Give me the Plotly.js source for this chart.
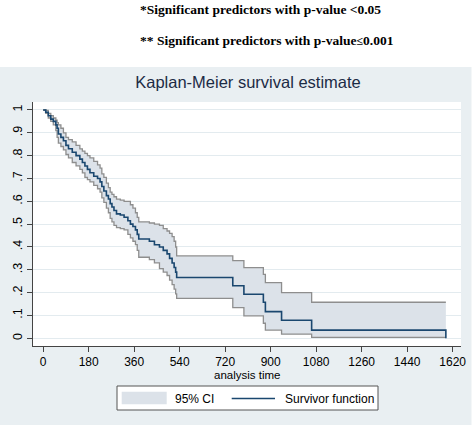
<!DOCTYPE html>
<html>
<head>
<meta charset="utf-8">
<script src="https://cdn.plot.ly/plotly-3.0.1.min.js"></script>
<style>html,body{margin:0;padding:0;background:#fff;}#chart{width:474px;height:427px;}</style>
</head>
<body>
<div id="chart"></div>
<script>
// Analysis time (days) at which the step function changes
var times = [0,10,20,30,40,50,55,60,70,80,90,100,115,130,145,155,165,175,185,200,
  215,225,232,240,250,258,265,272,280,290,305,320,335,345,355,365,372,378,420,440,
  460,475,490,500,510,518,524,528,750,794,871,879,943,1062,1593];
// Kaplan-Meier survivor function
var survival = [1.0,0.99,0.975,0.96,0.95,0.935,0.92,0.895,0.88,0.865,
  0.845,0.83,0.815,0.80,0.785,0.77,0.755,0.74,0.725,0.71,
  0.70,0.685,0.665,0.645,0.625,0.61,0.59,0.575,0.56,0.545,
  0.54,0.53,0.515,0.50,0.49,0.475,0.455,0.435,0.425,0.41,
  0.40,0.385,0.37,0.35,0.33,0.31,0.29,0.266,0.23,0.193,
  0.158,0.117,0.079,0.036,0];
// 95% CI upper bound
var ciUpper = [1.0,0.998,0.985,0.975,0.965,0.955,0.945,0.935,0.92,0.90,
  0.88,0.87,0.86,0.845,0.83,0.82,0.81,0.80,0.79,0.775,
  0.76,0.745,0.72,0.705,0.68,0.66,0.64,0.63,0.62,0.61,
  0.605,0.60,0.60,0.585,0.57,0.55,0.53,0.51,0.505,0.50,
  0.495,0.48,0.47,0.46,0.445,0.425,0.40,0.361,0.34,0.31,
  0.28,0.244,0.20,0.158,0.158];
// 95% CI lower bound
var ciLower = [1.0,0.985,0.965,0.95,0.935,0.91,0.88,0.855,0.84,0.825,
  0.805,0.79,0.77,0.755,0.74,0.725,0.705,0.695,0.685,0.67,
  0.655,0.64,0.615,0.595,0.57,0.55,0.525,0.51,0.495,0.485,
  0.48,0.475,0.455,0.44,0.425,0.41,0.385,0.355,0.345,0.33,
  0.305,0.29,0.275,0.255,0.235,0.215,0.195,0.175,0.134,0.098,
  0.066,0.036,0.018,0.004,0.004];

var xTickVals = [0,180,360,540,720,900,1080,1260,1440,1620];
var yTickVals = [0,0.1,0.2,0.3,0.4,0.5,0.6,0.7,0.8,0.9,1];
var yTickText = ["0",".1",".2",".3",".4",".5",".6",".7",".8",".9","1"];

var chartTitle = "Kaplan-Meier survival estimate";
var xTitle = "analysis time";
var note1 = "*Significant predictors with p-value <0.05";
var note2a = "** Significant predictors with p-value";
var note2b = "\u2264";
var note2c = "0.001";
var legendCI = "95% CI";
var legendSurv = "Survivor function";

var NAVY = "#1a476f", CIGRAY = "#8e8e8e", BAND = "#dce2e9", BG = "#e9eff2";
var FONT = "Liberation Sans, Arial, sans-serif";
var SERIF = "Liberation Serif, Times New Roman, serif";

var traces = [
  {x: times, y: ciLower, mode: "lines", line: {shape: "hv", color: CIGRAY, width: 1.3},
   hoverinfo: "skip", showlegend: false},
  {x: times, y: ciUpper, mode: "lines", fill: "tonexty", fillcolor: BAND,
   line: {shape: "hv", color: CIGRAY, width: 1.3}, hoverinfo: "skip", showlegend: false},
  {x: times, y: survival, mode: "lines", line: {shape: "hv", color: NAVY, width: 1.6},
   showlegend: false}
];

// plot area: x 33..461 px, y 102..346 px
function px(x){ return (x - 33) / 428; }
function py(y){ return (346 - y) / 244; }

var note2 = note2a + '<span style="font-family:Liberation Serif;font-size:12px">' + note2b + '</span>' + note2c;

var layout = {
  width: 474, height: 427,
  margin: {l: 33, r: 13, t: 102, b: 81, pad: 0},
  paper_bgcolor: "#ffffff",
  plot_bgcolor: "rgba(0,0,0,0)",
  font: {family: FONT, size: 12, color: "#000"},
  showlegend: false,
  title: {text: chartTitle, x: 248/474, xref: "container", xanchor: "center",
          y: 1 - 82/427, yref: "container", yanchor: "middle",
          font: {family: FONT, size: 16.5, color: "#1c2b45"}},
  xaxis: {
    range: [-40.35, 1652.9], tickvals: xTickVals, ticktext: xTickVals.map(String),
    showline: true, linecolor: "#444", linewidth: 1, ticks: "outside", ticklen: 5,
    tickcolor: "#444", tickwidth: 1, showgrid: false, zeroline: false,
    tickfont: {family: FONT, size: 12, color: "#000"}
  },
  yaxis: {
    range: [-0.0337, 1.035], tickvals: yTickVals, ticktext: yTickText, tickangle: -90,
    showline: true, linecolor: "#444", linewidth: 1, ticks: "outside", ticklen: 5,
    tickcolor: "#444", tickwidth: 1, showgrid: true, gridcolor: "#e3ebef", gridwidth: 1,
    zeroline: false,
    tickfont: {family: FONT, size: 12.5, color: "#000"}
  },
  shapes: [
    {type: "rect", xref: "paper", yref: "paper", layer: "below",
     x0: px(0), x1: px(471.5), y0: py(425), y1: py(67), fillcolor: BG, line: {width: 0}},
    {type: "rect", xref: "paper", yref: "paper", layer: "below",
     x0: 0, x1: 1, y0: 0, y1: 1, fillcolor: "#ffffff", line: {width: 0}},
    {type: "rect", xref: "paper", yref: "paper", layer: "below",
     x0: px(117), x1: px(378), y0: py(410), y1: py(386), fillcolor: "#ffffff",
     line: {color: "#555", width: 1}},
    {type: "rect", xref: "paper", yref: "paper", layer: "below",
     x0: px(121.7), x1: px(166.7), y0: py(404.3), y1: py(391.7), fillcolor: BAND,
     line: {width: 0}},
    {type: "line", xref: "paper", yref: "paper", layer: "above",
     x0: px(231.7), x1: px(275), y0: py(398.5), y1: py(398.5),
     line: {color: NAVY, width: 1.6}}
  ],
  annotations: [
    {text: note1, xref: "paper", yref: "paper", x: px(138), y: py(9),
     xanchor: "left", yanchor: "middle", showarrow: false,
     font: {family: SERIF, size: 13.5, color: "#000", weight: "bold"}},
    {text: note2, xref: "paper", yref: "paper", x: px(138), y: py(40),
     xanchor: "left", yanchor: "middle", showarrow: false,
     font: {family: SERIF, size: 13.5, color: "#000", weight: "bold"}},
    {text: xTitle, xref: "paper", yref: "paper", x: px(247.5), y: py(375),
     xanchor: "center", yanchor: "middle", showarrow: false,
     font: {family: FONT, size: 11.5, color: "#000"}},
    {text: legendCI, xref: "paper", yref: "paper", x: px(173.3), y: py(398.5),
     xanchor: "left", yanchor: "middle", showarrow: false,
     font: {family: FONT, size: 12, color: "#000"}},
    {text: legendSurv, xref: "paper", yref: "paper", x: px(282.7), y: py(398.5),
     xanchor: "left", yanchor: "middle", showarrow: false,
     font: {family: FONT, size: 12, color: "#000"}}
  ]
};

Plotly.newPlot("chart", traces, layout, {displayModeBar: false, staticPlot: true});
</script>
</body>
</html>
